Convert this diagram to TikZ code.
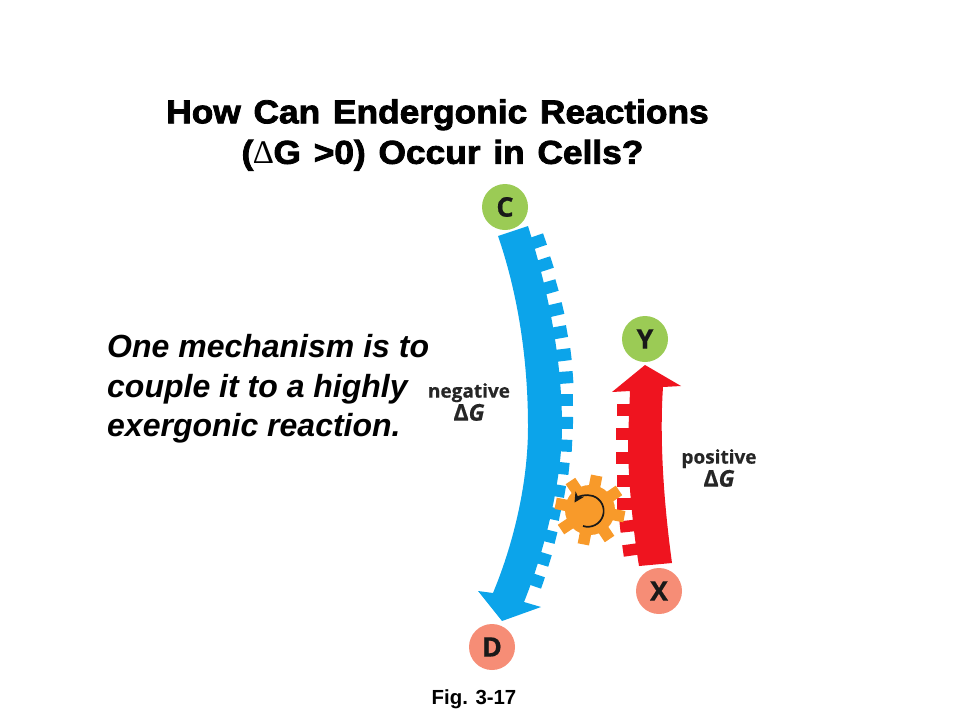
\documentclass[tikz,border=0pt]{standalone}
\usepackage{fontspec}
\setmainfont{Liberation Sans}
\newfontfamily\labelfont[FakeBold=0.6]{Open Sans}
\newfontfamily\titlefont[FakeBold=2.4,FakeStretch=1.07,WordSpace=1.3]{Liberation Sans Bold}
\newfontfamily\symfont{Liberation Serif}
\usetikzlibrary{arrows.meta}
\definecolor{bluearrow}{HTML}{0CA4EA}
\definecolor{redarrow}{HTML}{EF141F}
\definecolor{greenball}{HTML}{9BCB55}
\definecolor{salmonball}{HTML}{F68D76}
\definecolor{gearorange}{HTML}{F89A2A}
\tikzset{
    ball/.style={circle, minimum size=46pt, inner sep=0pt, text=black!90, font=\labelfont\bfseries\fontsize{27}{27}\selectfont},
    titletext/.style={inner sep=0pt, align=center, font=\titlefont\fontsize{33}{40.5}\selectfont},
    bodytext/.style={inner sep=0pt, align=left, font=\bfseries\itshape\fontsize{32}{39.5}\selectfont},
    dglabel/.style={inner sep=0pt, align=center, text=black!85, font=\labelfont\bfseries\fontsize{19}{23}\selectfont},
}
\begin{document}
\begin{tikzpicture}[x=1pt,y=-1pt]  % one unit is one pixel of the reference, y runs down
    \useasboundingbox (0,0) rectangle (960,720);

    % Draw the blue arrow
    \fill[bluearrow] (498,236) -- (528,226)
        .. controls (540,265) and (562,340) .. (562,427)
        .. controls (562,480) and (545,550) .. (524,602)
        -- (541,607) -- (502,621) -- (478,591) -- (493,593)
        .. controls (515,540) and (528,480) .. (528,427)
        .. controls (528,350) and (515,285) .. (498,236) -- cycle;
    \foreach \x/\y/\a in {545/239/161, 552/262/162, 557/285/164, 563/308/167, 567/331/170,
        571/354/173, 573/377/176, 573/400/180, 573/423/181, 572/446/183, 569/469/186,
        565/492/190, 560/515/192, 556/538/194, 550/561/197, 543/583/199} {
        \draw[bluearrow, line width=12pt] (\x,\y) -- ++(\a:20);
    }

    % Draw the red arrow
    \fill[redarrow] (639,566) .. controls (633,530) and (628,480) .. (628,440)
        -- (630,391) -- (612,392) -- (645,365) -- (681,386) -- (663,387)
        .. controls (660,430) and (662,490) .. (672,563) -- cycle;
    \foreach \x/\y/\a in {617/410/0, 616/434/0, 616/458/0, 617/481/0, 617/504/0,
        620/527/-6, 623/551/-8} {
        \draw[redarrow, line width=11.5pt] (\x,\y) -- ++(\a:18);
    }

    % Draw the gear
    \fill[gearorange] (590,510) circle (25);
    \foreach \a in {11, 56, ..., 326} {
        \draw[gearorange, line width=11.5pt] (590,510) -- ++(\a:35);
    }
    \draw[-{Stealth[length=10pt,width=10pt]}, line width=1.7pt, black!90] (583,526)
        arc[start angle=108, end angle=-148, radius=15.8];

    % Draw the balls
    \node[ball, fill=greenball] (C) at (505,207) {C};
    \node[ball, fill=greenball] (Y) at (645,339) {Y};
    \node[ball, fill=salmonball] (D) at (492,647) {D};
    \node[ball, fill=salmonball] (X) at (659,591) {X};

    % Draw the texts
    \node[titletext] (title) at (437.5,135) {How Can Endergonic Reactions\\
        \hspace*{10pt}({\symfont ∆}G >0) Occur in Cells?};
    \node[bodytext, anchor=west] (mechanism) at (107,389) {One mechanism is to\\
        couple it to a highly\\ exergonic reaction.};
    \node[dglabel] (negative) at (469,402) {negative\\ {\fontsize{23}{23}\selectfont Δ\itshape G}};
    \node[dglabel] (positive) at (719,468) {positive\\ {\fontsize{23}{23}\selectfont Δ\itshape G}};
    \node[inner sep=0pt, font=\bfseries\fontsize{20.4}{22}\selectfont] (fig) at (474,699) {Fig. 3-17};
\end{tikzpicture}
\end{document}
